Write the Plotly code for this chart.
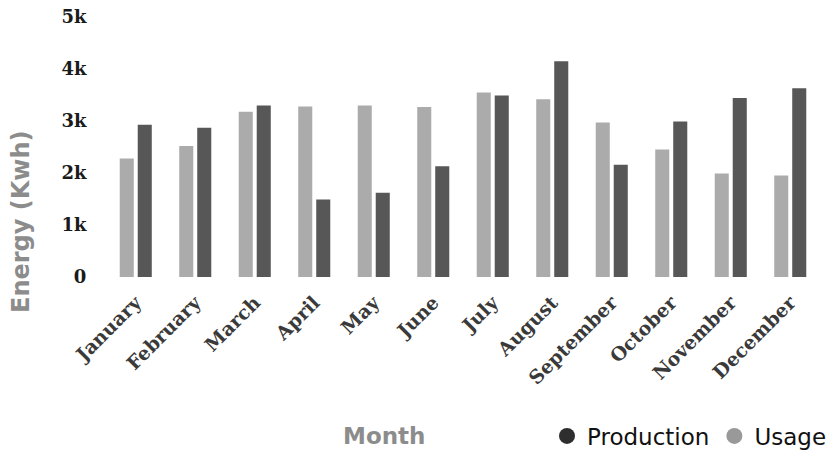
import plotly.graph_objects as go

# Monthly energy figures (kWh)
months = ["January", "February", "March", "April", "May", "June",
          "July", "August", "September", "October", "November", "December"]
usage = [2280, 2520, 3180, 3280, 3300, 3270, 3550, 3420, 2970, 2450, 1990, 1950]
production = [2930, 2870, 3300, 1490, 1620, 2130, 3490, 4150, 2160, 2990, 3440, 3630]

y_ticks = [0, 1000, 2000, 3000, 4000, 5000]
y_tick_text = ["0", "1k", "2k", "3k", "4k", "5k"]

usage_color = "#ababab"
production_color = "#575757"

fig = go.Figure()

fig.add_trace(go.Bar(x=months, y=usage, name="Usage",
                     marker=dict(color=usage_color, line=dict(width=0)),
                     showlegend=False))
fig.add_trace(go.Bar(x=months, y=production, name="Production",
                     marker=dict(color=production_color, line=dict(width=0)),
                     showlegend=False))

# Circle-marker legend entries
fig.add_trace(go.Scatter(x=[None], y=[None], mode="markers", name="Production",
                         marker=dict(symbol="circle", size=18, color="#2e2e2e")))
fig.add_trace(go.Scatter(x=[None], y=[None], mode="markers", name="Usage",
                         marker=dict(symbol="circle", size=18, color="#999999")))

serif_bold = dict(family="DejaVu Serif", weight="bold")
title_font = dict(family="DejaVu Sans", weight="bold", color="#8c8c8c")

fig.update_layout(
    width=827, height=451,
    margin=dict(l=106, r=7, t=17, b=174, autoexpand=False),
    paper_bgcolor="white", plot_bgcolor="white",
    barmode="group", bargap=0.395, bargroupgap=0.22,
    showlegend=True,
    legend=dict(orientation="h", xref="container", yref="container",
                x=547 / 827, y=1 - 436 / 451, xanchor="left", yanchor="middle",
                font=dict(family="DejaVu Sans", size=23, color="#111111"),
                itemwidth=30, tracegroupgap=0, bgcolor="rgba(0,0,0,0)"),
    xaxis=dict(
        automargin=False,
        showgrid=False, showline=False, zeroline=False,
        tickangle=-45,
        tickfont=dict(size=19, color="#3a3a3a", **serif_bold),
        ticks="outside", ticklen=6, tickcolor="rgba(0,0,0,0)",
    ),
    yaxis=dict(
        automargin=False,
        range=[0, 5000],
        tickvals=y_ticks, ticktext=y_tick_text,
        showgrid=False, showline=False, zeroline=False,
        tickfont=dict(size=18, color="#1a1a1a", **serif_bold),
        ticks="outside", ticklen=15, tickcolor="rgba(0,0,0,0)",
    ),
    annotations=[
        dict(text="Energy (Kwh)", xref="paper", yref="paper",
             x=(21 - 106) / 714, y=(277 - 222) / 260, textangle=-90,
             xanchor="center", yanchor="middle", showarrow=False,
             font=dict(size=24, **title_font)),
        dict(text="Month", xref="paper", yref="paper",
             x=(384 - 106) / 714, y=(277 - 436) / 260,
             xanchor="center", yanchor="middle", showarrow=False,
             font=dict(size=23, **title_font)),
    ],
)

fig.write_html("out.html")
